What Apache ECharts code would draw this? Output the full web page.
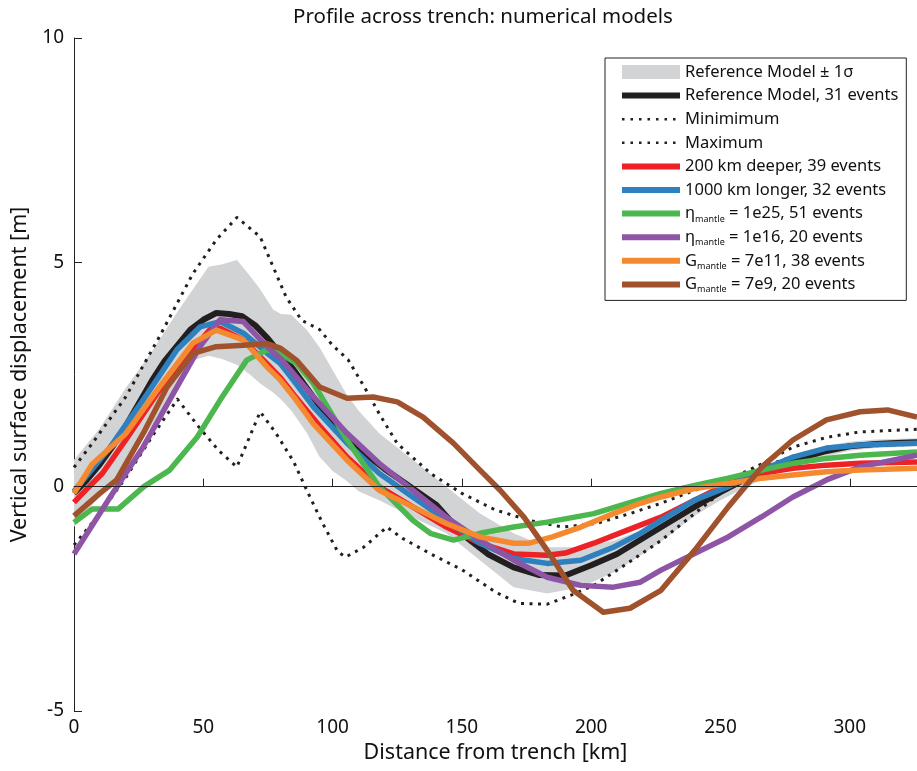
<!DOCTYPE html>
<html><head><meta charset="utf-8">
<script src="https://cdn.jsdelivr.net/npm/echarts@6/dist/echarts.min.js"></script>
<style>html,body{margin:0;padding:0;background:#fff}#c{width:917px;height:771px}</style>
</head><body><div id="c"></div>
<script>
// ---- data (km, m) ----
const bandX    = [0, 10, 20, 30, 40, 46, 52, 57, 63, 68, 72, 77, 80, 84, 90, 95, 100, 105, 110, 118, 131, 144, 157, 170, 183, 196, 209, 220, 230, 240, 250, 260, 270, 280, 290, 300, 310, 326];
const bandHigh = [0.6, 1.3, 2.2, 3.0, 3.9, 4.4, 4.9, 4.95, 5.05, 4.7, 4.4, 3.95, 3.85, 3.83, 3.5, 3.1, 2.6, 2.1, 1.7, 1.19, 0.6, 0.0, -0.6, -1.04, -1.35, -1.35, -1.2, -0.95, -0.65, -0.35, -0.05, 0.25, 0.52, 0.74, 0.9, 1.0, 1.05, 1.08];
const bandLow  = [-0.9, -0.2, 0.45, 1.35, 2.25, 2.82, 2.92, 2.85, 2.72, 2.5, 2.3, 2.1, 1.95, 1.7, 1.2, 0.66, 0.35, 0.15, -0.1, -0.3, -0.68, -1.04, -1.64, -2.24, -2.38, -2.24, -1.9, -1.5, -1.1, -0.65, -0.3, 0.0, 0.25, 0.48, 0.66, 0.8, 0.86, 0.9];

const refX = [0, 5, 10, 15, 20, 25, 30, 35, 40, 45, 50, 55, 60, 65, 70, 75, 80, 85, 90, 95, 100, 110, 120, 130, 140, 150, 160, 170, 180, 190, 200, 210, 220, 230, 240, 250, 260, 270, 280, 290, 300, 310, 320, 326];
const refY = [-0.15, 0.15, 0.5, 0.9, 1.35, 1.85, 2.35, 2.8, 3.15, 3.5, 3.72, 3.87, 3.85, 3.8, 3.6, 3.3, 2.95, 2.6, 2.2, 1.8, 1.45, 0.85, 0.4, 0.0, -0.4, -1.05, -1.5, -1.8, -1.97, -1.98, -1.75, -1.5, -1.15, -0.8, -0.45, -0.12, 0.18, 0.42, 0.62, 0.78, 0.9, 0.95, 0.98, 0.99];

const minX = [0, 10, 20, 30, 40, 48, 56, 63, 72, 78, 85, 91, 96, 102, 105, 112, 121, 127, 138, 150, 163, 172, 183, 193, 201, 214, 227, 240, 253, 263, 278, 291, 304, 326];
const minY = [-1.3, -0.6, 0.2, 1.1, 1.95, 1.35, 0.8, 0.44, 1.67, 1.2, 0.55, -0.2, -0.8, -1.45, -1.57, -1.35, -0.9, -1.15, -1.5, -1.85, -2.35, -2.6, -2.62, -2.4, -2.2, -1.71, -1.2, -0.6, 0.0, 0.37, 0.68, 0.82, 0.9, 0.95];

const maxX = [0, 7, 20, 33, 46, 55, 63, 72, 82, 88, 95, 100, 106, 113, 118, 125, 138, 150, 163, 176, 189, 202, 215, 227, 240, 253, 266, 278, 291, 304, 326];
const maxY = [0.43, 0.96, 2.0, 3.34, 4.75, 5.5, 6.0, 5.57, 4.23, 3.71, 3.5, 3.15, 2.83, 2.15, 1.63, 0.96, 0.29, -0.15, -0.52, -0.75, -0.9, -0.82, -0.6, -0.37, -0.08, 0.15, 0.51, 0.88, 1.1, 1.22, 1.28];

const deepX = [0, 5, 11, 20, 33, 43.5, 52.6, 56.5, 65.5, 75, 80, 85, 90, 95, 105.6, 118, 131, 144, 157, 170, 183, 190, 201, 214, 227, 240, 253, 266, 278, 291, 304, 326];
const deepY = [-0.35, -0.05, 0.3, 1.04, 2.15, 2.9, 3.5, 3.53, 3.27, 2.72, 2.42, 2.05, 1.7, 1.35, 0.66, 0.0, -0.45, -0.9, -1.26, -1.5, -1.53, -1.48, -1.26, -0.97, -0.68, -0.3, 0.07, 0.3, 0.41, 0.48, 0.52, 0.55];

const longX = [0, 14, 26.7, 39.8, 48.7, 56.5, 65.5, 74.6, 79.7, 84.7, 92.6, 105.6, 118, 131, 144, 157, 170, 183, 196, 208.6, 219, 227, 240, 253, 266, 278, 291, 304, 326];
const longY = [-0.1, 0.88, 1.93, 3.05, 3.56, 3.68, 3.42, 2.98, 2.75, 2.38, 1.78, 0.97, 0.3, -0.23, -0.75, -1.26, -1.6, -1.71, -1.64, -1.35, -1.04, -0.75, -0.3, 0.0, 0.37, 0.66, 0.86, 0.93, 0.97];

const eta25X = [0, 7, 17, 27, 37, 47.6, 56.5, 66.8, 74.6, 79.7, 86, 92.6, 105.6, 118, 131, 137.8, 146.7, 157, 170, 183, 201, 214, 227, 240, 253, 266, 278, 291, 304, 326];
const eta25Y = [-0.8, -0.5, -0.5, 0.0, 0.37, 1.1, 1.93, 2.82, 3.05, 2.97, 2.75, 2.3, 1.04, 0.0, -0.75, -1.04, -1.19, -1.04, -0.9, -0.79, -0.6, -0.37, -0.15, 0.03, 0.19, 0.37, 0.52, 0.63, 0.7, 0.77];

const eta16X = [0, 14, 26.7, 39.8, 48.7, 56.5, 65.5, 74.6, 80, 92.6, 105.6, 118, 131, 144, 157, 170, 183, 196, 208.6, 219, 227, 240, 253, 266, 278, 291, 304, 326];
const eta16Y = [-1.5, -0.23, 0.88, 2.22, 3.12, 3.72, 3.68, 3.12, 2.85, 2.0, 1.19, 0.52, -0.08, -0.68, -1.19, -1.64, -2.02, -2.2, -2.24, -2.13, -1.86, -1.49, -1.12, -0.67, -0.23, 0.15, 0.44, 0.7];

const g11X = [0, 7, 20, 33, 46, 55, 65.5, 74.6, 79.7, 85, 92.6, 105.6, 118, 131, 144, 157, 170, 176, 185, 196, 208.6, 219, 227, 240, 253, 266, 278, 291, 304, 326];
const g11Y = [-0.15, 0.5, 1.18, 2.22, 3.2, 3.49, 3.27, 2.67, 2.38, 2.0, 1.4, 0.59, -0.08, -0.45, -0.82, -1.12, -1.26, -1.26, -1.12, -0.9, -0.6, -0.37, -0.23, -0.04, 0.07, 0.19, 0.26, 0.33, 0.37, 0.41];

const g9X = [0, 10, 16.5, 26.7, 36, 46, 55, 65.5, 74.6, 79.7, 86, 95, 105.6, 115.7, 125, 135, 146.7, 157, 164.8, 174, 183, 193, 204.7, 215, 227, 240, 253, 266, 278, 291, 304, 314.6, 326];
const g9Y = [-0.65, -0.15, 0.15, 1.18, 2.22, 2.97, 3.12, 3.15, 3.19, 3.09, 2.82, 2.22, 1.97, 2.0, 1.89, 1.55, 0.97, 0.37, -0.08, -0.68, -1.42, -2.31, -2.8, -2.71, -2.31, -1.42, -0.45, 0.44, 1.04, 1.49, 1.67, 1.71, 1.55];

const xTicks = [0, 50, 100, 150, 200, 250, 300];
const yTicks = [-5, 0, 5, 10];

const names = {
  band: 'Reference Model ± 1σ',
  ref: 'Reference Model, 31 events',
  min: 'Minimimum',
  max: 'Maximum',
  deep: '200 km deeper, 39 events',
  long: '1000 km longer, 32 events',
  eta25: 'ηmantle = 1e25, 51 events',
  eta16: 'ηmantle = 1e16, 20 events',
  g11: 'Gmantle = 7e11, 38 events',
  g9: 'Gmantle = 7e9, 20 events'
};

const zip = (xs, ys) => xs.map((x, i) => [x, ys[i]]);
const lineSeries = (name, xs, ys, color, width, type) => ({
  name, type: 'line', data: zip(xs, ys), showSymbol: false, symbol: 'none',
  lineStyle: { color, width, type: type || 'solid', cap: 'butt', join: 'round' },
  itemStyle: { color }, z: 3
});

const chart = echarts.init(document.getElementById('c'));
const FONT = "'Noto Sans', sans-serif";
const GRAY = '#d1d3d4';
chart.setOption({
  animation: false,
  title: {
    text: 'Profile across trench: numerical models',
    left: 478, top: 2, textAlign: 'center',
    textStyle: { fontFamily: FONT, fontSize: 20.5, fontWeight: 'normal', color: '#111' }
  },
  grid: { left: 74, right: 0, top: 38, bottom: 60, containLabel: false },
  xAxis: {
    type: 'value', min: 0, max: 326,
    name: 'Distance from trench [km]', nameLocation: 'middle', nameGap: 29,
    nameTextStyle: { fontFamily: FONT, fontSize: 21.5, color: '#111' },
    axisLine: { lineStyle: { color: '#222', width: 1 } },
    axisTick: { inside: true, length: 8, customValues: xTicks, lineStyle: { color: '#222' } },
    axisLabel: { customValues: xTicks, fontFamily: FONT, fontSize: 19, color: '#111', margin: 7 },
    splitLine: { show: false }
  },
  yAxis: {
    type: 'value', min: -5, max: 10, interval: 5,
    name: 'Vertical surface displacement [m]', nameLocation: 'middle', nameGap: 40,
    nameTextStyle: { fontFamily: FONT, fontSize: 21.5, color: '#111' },
    axisLine: { show: true, lineStyle: { color: '#222', width: 1 } },
    axisTick: { show: true, inside: true, length: 8, customValues: yTicks, lineStyle: { color: '#222' } },
    axisLabel: { customValues: yTicks, fontFamily: FONT, fontSize: 19, color: '#111', margin: 10 },
    splitLine: { show: false }
  },
  legend: {
    orient: 'vertical', left: 605, top: 58,
    padding: [4, 8, 6, 14],
    backgroundColor: '#fff', borderColor: '#222', borderWidth: 1, borderRadius: 0,
    itemWidth: 58, itemHeight: 14, itemGap: 3.6,
    lineStyle: { width: 6 },
    itemStyle: { color: 'rgba(0,0,0,0)', borderWidth: 0, opacity: 0 },
    textStyle: {
      fontFamily: FONT, fontSize: 16.5, color: '#111', lineHeight: 20,
      rich: { sub: { fontFamily: FONT, fontSize: 9, lineHeight: 9, verticalAlign: 'bottom', color: '#111' } }
    },
    formatter: n => n.replace(/^(η|G)mantle/, '$1{sub|mantle}'),
    data: [
      { name: names.band, icon: 'rect', itemStyle: { color: GRAY, opacity: 1 } },
      { name: names.ref },
      { name: names.min, lineStyle: { width: 2.5, type: [2.5, 6] } },
      { name: names.max, lineStyle: { width: 2.5, type: [2.5, 6] } },
      { name: names.deep }, { name: names.long }, { name: names.eta25 },
      { name: names.eta16 }, { name: names.g11 }, { name: names.g9 }
    ]
  },
  series: [
    { name: names.band, type: 'custom', data: [0], z: 1, silent: true,
      itemStyle: { color: GRAY },
      clip: true,
      renderItem: (params, api) => {
        const pts = bandX.map((x, i) => api.coord([x, bandHigh[i]]));
        for (let i = bandX.length - 1; i >= 0; i--) pts.push(api.coord([bandX[i], bandLow[i]]));
        return { type: 'polygon', shape: { points: pts }, style: { fill: GRAY } };
      },
      markLine: { silent: true, symbol: 'none', label: { show: false },
        lineStyle: { color: '#222', width: 1, type: 'solid' }, data: [{ yAxis: 0 }] } },
    lineSeries(names.ref, refX, refY, '#231f20', 6),
    lineSeries(names.min, minX, minY, '#231f20', 3, [3, 5.5]),
    lineSeries(names.max, maxX, maxY, '#231f20', 3, [3, 5.5]),
    lineSeries(names.deep, deepX, deepY, '#ec2227', 5.5),
    lineSeries(names.long, longX, longY, '#2f80bf', 5.5),
    lineSeries(names.eta25, eta25X, eta25Y, '#4cb74f', 5.5),
    lineSeries(names.eta16, eta16X, eta16Y, '#8e55a6', 5.5),
    lineSeries(names.g11, g11X, g11Y, '#f5892f', 5.5),
    lineSeries(names.g9, g9X, g9Y, '#a0522d', 5.5)
  ]
});
</script></body></html>
